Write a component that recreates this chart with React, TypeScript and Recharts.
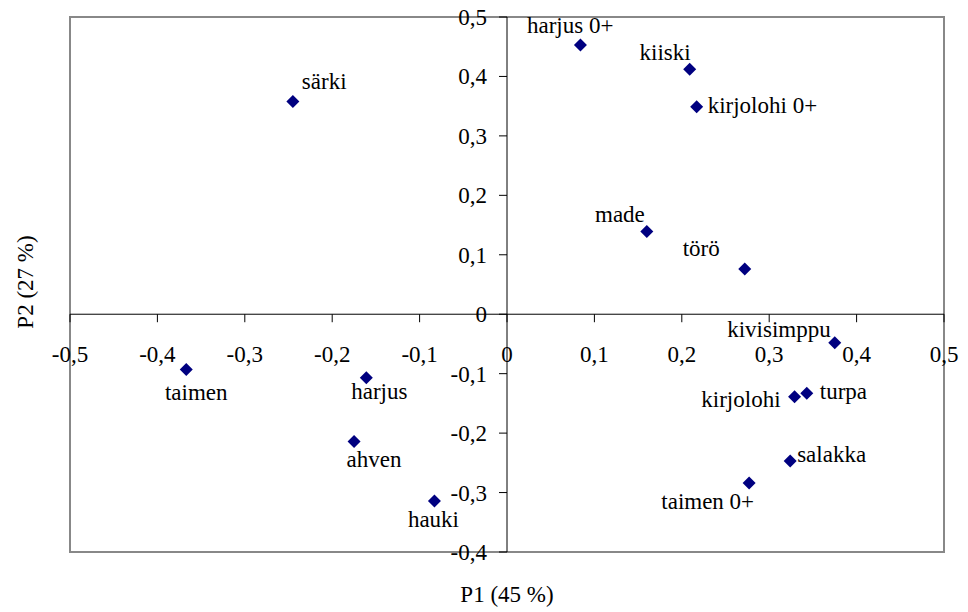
import React from 'react';
import { ScatterChart, Scatter, XAxis, YAxis, ReferenceLine, ReferenceArea, ReferenceDot } from 'recharts';

// PCA loadings
const species = ['särki', 'harjus 0+', 'kiiski', 'kirjolohi 0+', 'made', 'törö', 'kivisimppu', 'turpa', 'kirjolohi', 'salakka', 'taimen 0+', 'taimen', 'harjus', 'ahven', 'hauki'];
const p1 = [-0.245, 0.084, 0.209, 0.217, 0.160, 0.272, 0.375, 0.343, 0.329, 0.324, 0.277, -0.367, -0.161, -0.175, -0.083];
const p2 = [0.358, 0.453, 0.412, 0.349, 0.139, 0.076, -0.048, -0.133, -0.139, -0.247, -0.284, -0.093, -0.107, -0.214, -0.314];

const xTicks = [-0.5, -0.4, -0.3, -0.2, -0.1, 0, 0.1, 0.2, 0.3, 0.4, 0.5];
const xTickLabels = ['-0,5', '-0,4', '-0,3', '-0,2', '-0,1', '0', '0,1', '0,2', '0,3', '0,4', '0,5'];
const yTicks = [-0.4, -0.3, -0.2, -0.1, 0, 0.1, 0.2, 0.3, 0.4, 0.5];
const yTickLabels = ['-0,4', '-0,3', '-0,2', '-0,1', '0', '0,1', '0,2', '0,3', '0,4', '0,5'];

const xTitle = 'P1 (45 %)';
const yTitle = 'P2 (27 %)';

// where each point label sits relative to its marker
const labelPlacement: Record<string, { dx: number; dy: number; anchor: 'start' | 'middle' | 'end' }> = {
  'särki': { dx: 9, dy: -12, anchor: 'start' },
  'harjus 0+': { dx: 33, dy: -12, anchor: 'end' },
  'kiiski': { dx: 1, dy: -9, anchor: 'end' },
  'kirjolohi 0+': { dx: 11, dy: 6, anchor: 'start' },
  'made': { dx: -2, dy: -10, anchor: 'end' },
  'törö': { dx: -25, dy: -13, anchor: 'end' },
  'kivisimppu': { dx: -4, dy: -6, anchor: 'end' },
  'turpa': { dx: 13, dy: 6, anchor: 'start' },
  'kirjolohi': { dx: -14, dy: 10, anchor: 'end' },
  'salakka': { dx: 7, dy: 1, anchor: 'start' },
  'taimen 0+': { dx: 5, dy: 26, anchor: 'end' },
  'taimen': { dx: 10, dy: 30, anchor: 'middle' },
  'harjus': { dx: 13, dy: 21, anchor: 'middle' },
  'ahven': { dx: 20, dy: 26, anchor: 'middle' },
  'hauki': { dx: -1, dy: 26, anchor: 'middle' },
};

const textStyle: React.CSSProperties = { fontFamily: "'Liberation Serif'", fontSize: 23 };
const NAVY = '#000080';

const rows = species.map((name, i) => ({ name, x: p1[i], y: p2[i] }));

const Marker = (props: any) => {
  const { cx, cy, payload } = props;
  const h = 6.5;
  const lp = labelPlacement[payload.name] || { dx: 8, dy: -8, anchor: 'start' };
  return (
    <g>
      <polygon points={`${cx},${cy - h} ${cx + h},${cy} ${cx},${cy + h} ${cx - h},${cy}`} fill={NAVY} />
      <text x={cx + lp.dx} y={cy + lp.dy} textAnchor={lp.anchor} style={textStyle} fill="#000">
        {payload.name}
      </text>
    </g>
  );
};

const xTickShape = (label: string) => (props: any) => {
  const { cx, cy } = props;
  return (
    <g>
      <line x1={cx} y1={cy} x2={cx} y2={cy + 8} stroke="#000" strokeWidth={1} />
      <text x={cx} y={cy + 48} textAnchor="middle" style={textStyle} fill="#000">{label}</text>
    </g>
  );
};

const yTickShape = (label: string) => (props: any) => {
  const { cx, cy } = props;
  return (
    <g>
      <line x1={cx - 8} y1={cy} x2={cx} y2={cy} stroke="#000" strokeWidth={1} />
      <text x={cx - 20} y={cy + 8} textAnchor="end" style={textStyle} fill="#000">{label}</text>
    </g>
  );
};

export default function App() {
  return (
    <div style={{ position: 'absolute', left: 0, top: 0, width: 968, height: 612, background: '#fff' }}>
      <ScatterChart width={968} height={612} margin={{ top: 17, right: 24, bottom: 60, left: 70 }}>
        <XAxis type="number" dataKey="x" domain={[-0.5, 0.5]} hide allowDataOverflow />
        <YAxis type="number" dataKey="y" domain={[-0.4, 0.5]} hide allowDataOverflow />
        <ReferenceArea x1={-0.5} x2={0.5} y1={-0.4} y2={0.5} fill="none" stroke="#888" strokeWidth={2} ifOverflow="visible" />
        <ReferenceLine y={0} stroke="#000" strokeWidth={1} />
        <ReferenceLine x={0} stroke="#000" strokeWidth={1} />
        {xTicks.map((t, i) => (
          <ReferenceDot key={'xt' + i} x={t} y={0} r={0} ifOverflow="visible" shape={xTickShape(xTickLabels[i])} />
        ))}
        {yTicks.map((t, i) => (
          <ReferenceDot key={'yt' + i} x={0} y={t} r={0} ifOverflow="visible" shape={yTickShape(yTickLabels[i])} />
        ))}
        <Scatter data={rows} fill={NAVY} shape={Marker} isAnimationActive={false} />
      </ScatterChart>
      <svg width={968} height={612} style={{ position: 'absolute', left: 0, top: 0, pointerEvents: 'none' }}>
        <text x={507} y={602} textAnchor="middle" style={textStyle} fill="#000">{xTitle}</text>
        <text x={33} y={282} textAnchor="middle" style={textStyle} fill="#000" transform="rotate(-90, 33, 282)">{yTitle}</text>
      </svg>
    </div>
  );
}
